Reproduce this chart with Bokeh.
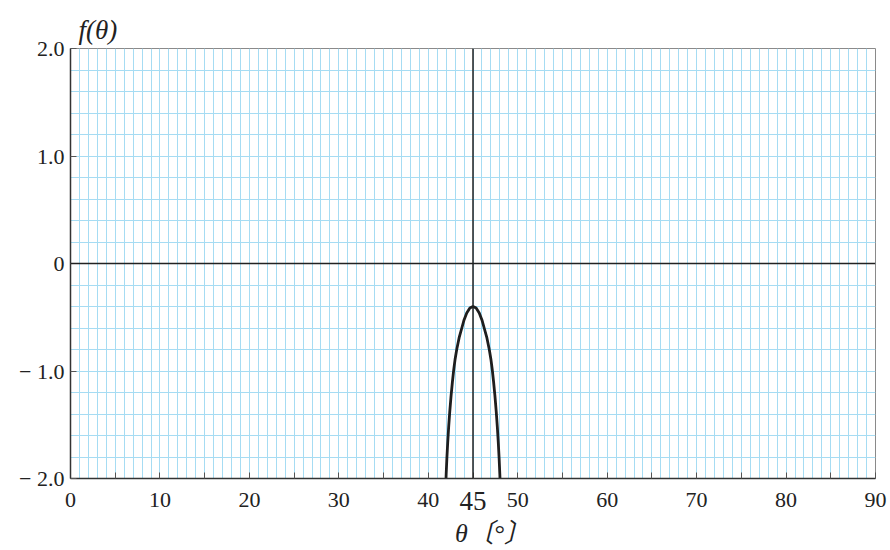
from bokeh.plotting import figure
from bokeh.models import FixedTicker, Span, Range1d, LinearAxis
from bokeh.embed import file_html
from bokeh.resources import INLINE

# curve
theta = [41.94, 42.0, 42.08, 42.17, 42.28, 42.4, 42.55, 42.7, 42.85, 43.0, 43.18, 43.45,
         43.75, 44.0, 44.3, 44.65, 45.0, 45.35, 45.7, 46.0, 46.25, 46.55, 46.82, 47.0,
         47.15, 47.3, 47.45, 47.6, 47.72, 47.83, 47.92, 48.0, 48.06]
f_vals = [-2.1, -1.96, -1.81, -1.67, -1.52, -1.38, -1.23, -1.1, -0.985, -0.89, -0.8, -0.69,
          -0.6, -0.525, -0.46, -0.415, -0.4, -0.415, -0.46, -0.525, -0.6, -0.69, -0.8, -0.89,
          -0.985, -1.1, -1.23, -1.38, -1.52, -1.67, -1.81, -1.96, -2.1]

x_ticks = [0, 5, 10, 15, 20, 25, 30, 35, 40, 45, 50, 55, 60, 65, 70, 75, 80, 85, 90]
x_tick_labels = {0: "0", 5: "", 10: "10", 15: "", 20: "20", 25: "", 30: "30", 35: "",
                 40: "40", 45: "", 50: "50", 55: "", 60: "60", 65: "", 70: "70",
                 75: "", 80: "80", 85: "", 90: "90"}
y_ticks = [-2, -1, 0, 1, 2]
y_tick_labels = {-2: "\u2212 2.0", -1: "\u2212 1.0", 0: "0", 1: "1.0", 2: "2.0"}
x_grid = list(range(0, 91))
y_grid = [round(-2 + 0.2 * i, 1) for i in range(21)]
mark_theta = [45]
x_title = "\u2003\u2002\u03b8\u3014\u00b0\u3015"
y_title = "f(\u03b8)"

FONT = "Liberation Serif"

p = figure(width=890, height=550, x_range=Range1d(0, 90), y_range=Range1d(-2, 2),
           output_backend="svg", toolbar_location=None,
           min_border_left=70, min_border_right=15, min_border_top=48, min_border_bottom=71)
p.background_fill_color = "white"
p.border_fill_color = "white"
p.outline_line_color = "#8a8a8a"
p.outline_line_width = 1

# title f(theta)
p.title.text = y_title
p.title.text_font = FONT
p.title.text_font_style = "italic"
p.title.text_font_size = "27px"
p.title.text_color = "#222222"
p.title.align = "left"
p.title.offset = 8
p.title.standoff = 7

# grid
p.xgrid.ticker = FixedTicker(ticks=x_grid)
p.ygrid.ticker = FixedTicker(ticks=y_grid)
for g in (p.xgrid, p.ygrid):
    g.grid_line_color = "#a6dcf3"
    g.grid_line_width = 1
    g.grid_line_alpha = 1.0

# axes
xa = p.xaxis[0]
xa.ticker = FixedTicker(ticks=x_ticks)
xa.major_label_overrides = x_tick_labels
xa.major_tick_in = 6
xa.major_tick_out = 0
xa.minor_tick_line_color = None
xa.major_tick_line_color = "#555555"
xa.axis_line_color = "#333333"
xa.axis_line_width = 1.5
xa.major_label_text_font = FONT
xa.major_label_text_font_size = "22px"
xa.major_label_text_color = "#222222"
xa.major_label_standoff = 14

ya = p.yaxis[0]
ya.ticker = FixedTicker(ticks=y_ticks)
ya.major_label_overrides = y_tick_labels
ya.major_tick_in = 6
ya.major_tick_out = 0
ya.minor_tick_line_color = None
ya.major_tick_line_color = "#555555"
ya.axis_line_color = "#333333"
ya.axis_line_width = 1.5
ya.major_label_text_font = FONT
ya.major_label_text_font_size = "22px"
ya.major_label_text_color = "#222222"
ya.major_label_standoff = 6

# second bottom axis carrying the big "45" and the axis title
xb = LinearAxis(ticker=FixedTicker(ticks=mark_theta))
xb.axis_line_color = None
xb.major_tick_line_color = None
xb.minor_tick_line_color = None
xb.major_tick_in = 0
xb.major_tick_out = 0
xb.major_label_text_font = FONT
xb.major_label_text_font_size = "27px"
xb.major_label_text_color = "#222222"
xb.major_label_standoff = -18
xb.axis_label = x_title
xb.axis_label_text_font = "'Liberation Serif', 'Noto Sans CJK JP'"
xb.axis_label_text_font_style = "italic"
xb.axis_label_text_font_size = "26px"
xb.axis_label_text_color = "#222222"
xb.axis_label_standoff = 6
p.add_layout(xb, "below")

# reference lines
p.add_layout(Span(location=0, dimension="width", line_color="#222222", line_width=1.5))
p.add_layout(Span(location=mark_theta[0], dimension="height", line_color="#222222", line_width=1.5))

# curve
p.line(theta, f_vals, line_color="#1e1e1e", line_width=2.8)

open("out.html", "w").write(file_html(p, INLINE))
